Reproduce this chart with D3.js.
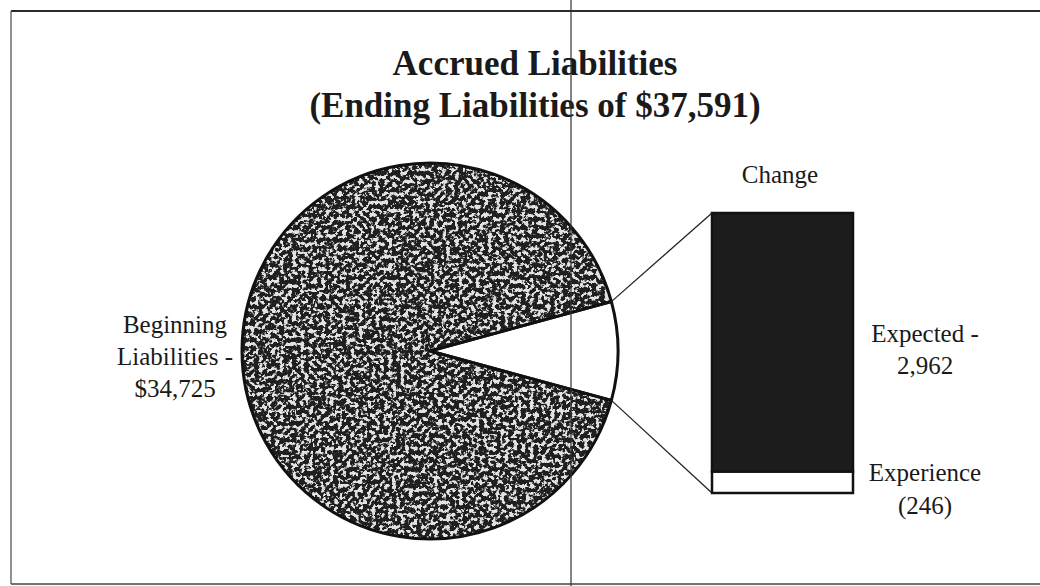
<!DOCTYPE html>
<html>
<head>
<meta charset="utf-8">
<script src="https://cdn.jsdelivr.net/npm/d3@7"></script>
<style>
  html, body { margin: 0; padding: 0; background: #fff; }
  svg { display: block; }
  text { font-family: "Liberation Serif", "Times New Roman", serif; fill: #1a1a1a; }
</style>
</head>
<body>
<svg id="chart" width="1040" height="586"></svg>
<script>
// Pie slices: beginning liabilities and the total change broken out in the bar
const pieCategories = ["Beginning Liabilities", "Change"];
const pieValues = [34725, 3208];
const pieLabels = ["Beginning", "Liabilities -", "$34,725"];

// Bar breakdown of the change (stacked bottom to top)
const barCategories = ["Experience", "Expected"];
const barValues = [246, 2962];
const barLabels = [["Experience", "(246)"], ["Expected -", "2,962"]];

const titleLines = ["Accrued Liabilities", "(Ending Liabilities of $37,591)"];
const barTitle = "Change";

const svg = d3.select("#chart");
const W = 1040, H = 586;

// grainy speckle texture for the large pie slice (region in the slice's local coordinates)
const defs = svg.append("defs");
const f = defs.append("filter").attr("id", "grain")
  .attr("filterUnits", "userSpaceOnUse")
  .attr("color-interpolation-filters", "sRGB")
  .attr("x", -200).attr("y", -200).attr("width", 400).attr("height", 400);
f.append("feTurbulence").attr("type", "fractalNoise")
  .attr("baseFrequency", 0.24).attr("numOctaves", 3).attr("seed", 11).attr("result", "noise");
f.append("feColorMatrix").attr("in", "noise").attr("type", "matrix")
  .attr("values", "0 0 0 0 0.12  0 0 0 0 0.12  0 0 0 0 0.12  1 0 0 0 0").attr("result", "a");
const ct = f.append("feComponentTransfer").attr("in", "a").attr("result", "speck");
ct.append("feFuncA").attr("type", "linear").attr("slope", -10).attr("intercept", 6.0);
f.append("feFlood").attr("flood-color", "#e2e2e2").attr("result", "paper");
f.append("feComposite").attr("in", "speck").attr("in2", "paper").attr("operator", "over").attr("result", "tex");
f.append("feComposite").attr("in", "tex").attr("in2", "SourceGraphic").attr("operator", "in");

// frame
svg.append("line").attr("x1", 11).attr("x2", W).attr("y1", 11).attr("y2", 11)
  .attr("stroke", "#2a2a2a").attr("stroke-width", 2);
svg.append("line").attr("x1", 11).attr("x2", 11).attr("y1", 11).attr("y2", 584)
  .attr("stroke", "#555").attr("stroke-width", 1.3);
svg.append("line").attr("x1", 11).attr("x2", W).attr("y1", 584).attr("y2", 584)
  .attr("stroke", "#444").attr("stroke-width", 1.6);

// title
svg.append("g").selectAll("text").data(titleLines).join("text")
  .attr("x", 535).attr("y", (d, i) => 75 + i * 42)
  .attr("text-anchor", "middle")
  .attr("font-size", 35).attr("font-weight", "bold")
  .text(d => d);

// pie geometry
const cx = 430, cy = 351, R = 188;
const total = d3.sum(pieValues);
const changeAngle = pieValues[1] / total * 2 * Math.PI;
const pie = d3.pie().sort(null)
  .startAngle(Math.PI / 2 + changeAngle / 2)
  .endAngle(Math.PI / 2 + changeAngle / 2 + 2 * Math.PI);
const arcs = pie(pieValues);
const arc = d3.arc().innerRadius(0).outerRadius(R);

const gPie = svg.append("g").attr("transform", `translate(${cx},${cy})`);
gPie.selectAll("path.fill").data(arcs).join("path")
  .attr("class", "fill")
  .attr("d", arc)
  .attr("fill", (d, i) => i === 0 ? "#000" : "#fff")
  .attr("filter", (d, i) => i === 0 ? "url(#grain)" : null);
gPie.selectAll("path.edge").data(arcs).join("path")
  .attr("class", "edge")
  .attr("d", arc)
  .attr("fill", "none")
  .attr("stroke", "#111").attr("stroke-width", 3).attr("stroke-linejoin", "round");

// bar of the change
const barX0 = 712, barW = 141;
const y = d3.scaleLinear().domain([0, d3.sum(barValues)]).range([493, 213]);
const stacked = d3.cumsum(barValues);
const barData = barValues.map((v, i) => ({ name: barCategories[i], v0: stacked[i] - v, v1: stacked[i] }));
svg.append("g").selectAll("rect").data(barData).join("rect")
  .attr("x", barX0).attr("width", barW)
  .attr("y", d => y(d.v1)).attr("height", d => y(d.v0) - y(d.v1))
  .attr("fill", (d, i) => i === 0 ? "#fff" : "#1c1c1c")
  .attr("stroke", "#111").attr("stroke-width", 2.5);

// leader lines from the change slice to the bar
const a0 = arcs[1].startAngle, a1 = arcs[1].endAngle;
const pt = a => [cx + R * Math.sin(a), cy - R * Math.cos(a)];
const topPt = pt(a0), botPt = pt(a1);
svg.append("line").attr("x1", topPt[0]).attr("y1", topPt[1])
  .attr("x2", barX0).attr("y2", y(d3.sum(barValues)))
  .attr("stroke", "#222").attr("stroke-width", 1.3);
svg.append("line").attr("x1", botPt[0]).attr("y1", botPt[1])
  .attr("x2", barX0).attr("y2", y(0))
  .attr("stroke", "#222").attr("stroke-width", 1.3);

// labels
svg.append("text").attr("x", 780).attr("y", 183).attr("text-anchor", "middle")
  .attr("font-size", 25).text(barTitle);

svg.append("g").selectAll("text").data(pieLabels).join("text")
  .attr("x", 175).attr("y", (d, i) => 333 + i * 32).attr("text-anchor", "middle")
  .attr("font-size", 25).text(d => d);

const labelY = [[481, 514], [342, 374]];
barLabels.forEach((lines, i) => {
  svg.append("g").selectAll("text").data(lines).join("text")
    .attr("x", 925).attr("y", (d, j) => labelY[i][j]).attr("text-anchor", "middle")
    .attr("font-size", 25).text(d => d);
});

// fold line crossing the page
svg.append("line").attr("x1", 571).attr("x2", 571).attr("y1", 0).attr("y2", H)
  .attr("stroke", "#333").attr("stroke-width", 1.2);
</script>
</body>
</html>
